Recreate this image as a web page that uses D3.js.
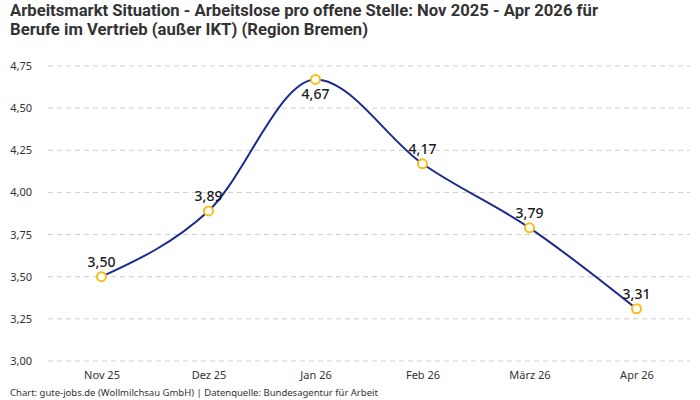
<!DOCTYPE html>
<html>
<head>
<meta charset="utf-8">
<script src="https://cdn.jsdelivr.net/npm/d3@7"></script>
<style>
  body { margin: 0; background: #fff; }
  svg { display: block; }
</style>
</head>
<body>
<svg id="chart"></svg>
<script>
// Data
const months = ["Nov 25", "Dez 25", "Jan 26", "Feb 26", "März 26", "Apr 26"];
const values = [3.50, 3.89, 4.67, 4.17, 3.79, 3.31];
const yTicks = [3.00, 3.25, 3.50, 3.75, 4.00, 4.25, 4.50, 4.75];
const labelBelow = [false, false, true, false, false, false];

const titleLines = [
    "Arbeitsmarkt Situation - Arbeitslose pro offene Stelle: Nov 2025 - Apr 2026 für",
    "Berufe im Vertrieb (außer IKT) (Region Bremen)"
];
const titleWidths = [588, 358];
const footer = "Chart: gute-jobs.de (Wollmilchsau GmbH) | Datenquelle: Bundesagentur für Arbeit";

const W = 700, H = 400;
const margin = { top: 45, right: 10, bottom: 39, left: 48 };
const width = W - margin.left - margin.right;
const height = H - margin.top - margin.bottom;

const fmt = v => v.toFixed(2).replace(".", ",");

const svg = d3.select("#chart")
    .attr("width", W)
    .attr("height", H);

// Title (condensed look via textLength)
svg.append("g")
    .selectAll("text")
    .data(titleLines)
    .join("text")
    .attr("x", 10)
    .attr("y", (d, i) => 16 + i * 19)
    .attr("font-family", "Roboto, 'Noto Sans', sans-serif")
    .attr("font-weight", "bold")
    .attr("font-size", 16.5)
    .attr("fill", "#333")
    .attr("textLength", (d, i) => titleWidths[i])
    .attr("lengthAdjust", "spacingAndGlyphs")
    .text(d => d);

const g = svg.append("g")
    .attr("transform", "translate(" + margin.left + "," + margin.top + ")");

const x = d3.scalePoint()
    .domain(months)
    .range([0, width])
    .padding(0.5);

const y = d3.scaleLinear()
    .domain([3.0, 4.75])
    .range([316, 21]);

// Gridlines
g.append("g")
    .selectAll("line")
    .data(yTicks)
    .join("line")
    .attr("x1", 0)
    .attr("x2", width)
    .attr("y1", d => y(d))
    .attr("y2", d => y(d))
    .attr("stroke", "#cfcfcf")
    .attr("stroke-width", 1)
    .attr("stroke-dasharray", "5,4");

// Y axis
const yAxis = g.append("g")
    .call(d3.axisLeft(y).tickValues(yTicks).tickFormat(fmt).tickSize(0).tickPadding(16));
yAxis.select(".domain").remove();
yAxis.selectAll("text")
    .attr("font-family", "'Noto Sans', sans-serif")
    .attr("font-size", 11)
    .attr("fill", "#333");

// X axis
const xAxis = g.append("g")
    .attr("transform", "translate(0," + height + ")")
    .call(d3.axisBottom(x).tickSize(0).tickPadding(10));
xAxis.select(".domain").remove();
xAxis.selectAll("text")
    .attr("font-family", "'Noto Sans', sans-serif")
    .attr("font-size", 11)
    .attr("fill", "#333");

// Line
const line = d3.line()
    .x((d, i) => x(months[i]))
    .y(d => y(d))
    .curve(d3.curveMonotoneX);

g.append("path")
    .datum(values)
    .attr("fill", "none")
    .attr("stroke", "#1a2a8f")
    .attr("stroke-width", 2)
    .attr("d", line);

// Points
g.append("g")
    .selectAll("circle")
    .data(values)
    .join("circle")
    .attr("cx", (d, i) => x(months[i]))
    .attr("cy", d => y(d))
    .attr("r", 4.5)
    .attr("fill", "#fff")
    .attr("stroke", "#f7bd1b")
    .attr("stroke-width", 2);

// Value labels
g.append("g")
    .selectAll("text")
    .data(values)
    .join("text")
    .attr("x", (d, i) => x(months[i]))
    .attr("y", (d, i) => y(d) + (labelBelow[i] ? 20 : -10))
    .attr("text-anchor", "middle")
    .attr("font-family", "'Noto Sans', sans-serif")
    .attr("font-weight", 500)
    .attr("font-size", 14)
    .attr("fill", "#1a1a1a")
    .text(d => fmt(d));

// Footer
svg.append("text")
    .attr("x", 10)
    .attr("y", 396)
    .attr("font-family", "'Noto Sans', sans-serif")
    .attr("font-size", 9.5)
    .attr("fill", "#333")
    .text(footer);
</script>
</body>
</html>
